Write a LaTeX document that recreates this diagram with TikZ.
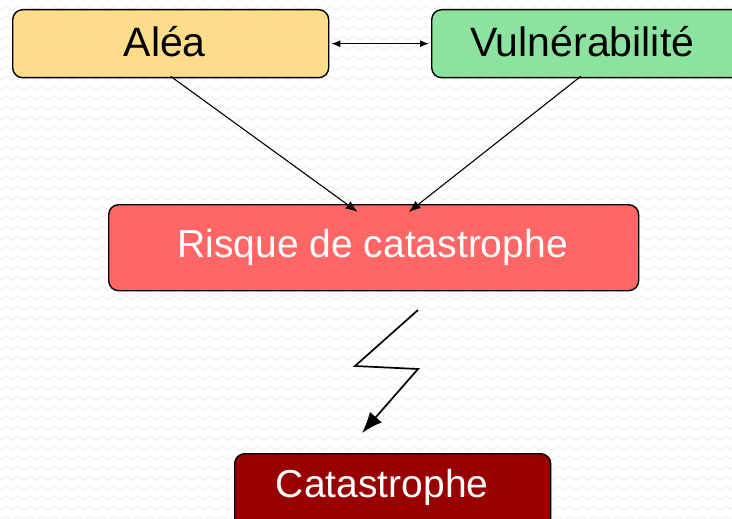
\documentclass[tikz,border=0pt]{standalone}
\usepackage{fontspec}
\setmainfont{Liberation Sans}
\usetikzlibrary{arrows.meta}
\definecolor{aleaC}{HTML}{FDDC8C}
\definecolor{vulC}{HTML}{8CE3A0}
\definecolor{risqC}{HTML}{FF6666}
\definecolor{catC}{HTML}{990000}
\definecolor{zzC}{HTML}{F0F0F0}
\tikzset{
  box/.style={draw=black, line width=1.4pt, rounded corners=10pt,
    inner xsep=0pt, inner ysep=0pt, font=\fontsize{39}{47}\selectfont},
  topfont/.style={font=\fontsize{41}{49}\selectfont},
  conn/.style={line width=1.1pt, -{Latex[length=12pt,width=9pt]}},
  bolt/.style={line width=1.7pt, line join=miter, -{Latex[length=21pt,width=16pt]}},
  zz/.style={draw=zzC, line width=1pt}
}
\begin{document}
\begin{tikzpicture}[x=1pt,y=-1pt]
\useasboundingbox (0,0) rectangle (732,519);
\clip (0,0) rectangle (732,519);
\fill[white] (0,0) rectangle (732,519);
% faint zig-zag background
\foreach \r in {0,10,...,520}{
  \draw[zz] (0,\r) \foreach \c in {0,12,...,732}{ -- (\c+6,\r-4) -- (\c+12,\r)};
}
\node[box, topfont, fill=aleaC, minimum width=316pt, text height=47pt, text depth=21pt,
  anchor=north west] (alea) at (12,9) {Al\'ea\kern12pt};
\node[box, topfont, fill=vulC, minimum width=314pt, text height=47pt, text depth=21pt,
  anchor=north west] (vul) at (431,9) {Vuln\'erabilit\'e\kern13pt};
\node[box, fill=risqC, text=white, minimum width=530pt, text height=53pt, text depth=33pt,
  anchor=north west] (risq) at (108,204) {Risque de catastrophe\kern2pt};
\node[box, fill=catC, text=white, minimum width=316pt, text height=44pt, text depth=38pt,
  anchor=north west] (cat) at (234,453) {Catastrophe\kern21pt};
% connectors
\draw[line width=1.1pt, {Latex[length=9pt,width=7pt]}-{Latex[length=9pt,width=7pt]}]
  ([xshift=2pt]alea.east) -- ([xshift=-2pt]vul.west);
\draw[conn] ([yshift=2pt]alea.south) -- ([shift={(-16pt,-8pt)}]risq.north);
\draw[conn] ([xshift=-8pt,yshift=2pt]vul.south) -- ([shift={(35pt,-8pt)}]risq.north);
\coordinate (b1) at (418,310);
\coordinate (b2) at (355,366);
\coordinate (b3) at (418,369);
\coordinate (b4) at (362,433);
\draw[bolt] (b1) -- (b2) -- (b3) -- (b4);
\end{tikzpicture}
\end{document}
